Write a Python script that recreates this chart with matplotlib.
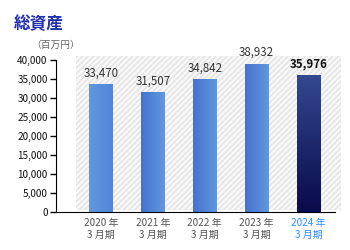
import matplotlib.pyplot as plt
import numpy as np
from matplotlib.patches import Rectangle
from matplotlib.colors import LinearSegmentedColormap

plt.rcParams['font.family'] = ['Noto Sans CJK JP', 'DejaVu Sans']
plt.rcParams['hatch.linewidth'] = 1.2

# data
years = ['2020 年\n3 月期', '2021 年\n3 月期', '2022 年\n3 月期', '2023 年\n3 月期', '2024 年\n3 月期']
values = [33470, 31507, 34842, 38932, 35976]
yticks = [0, 5000, 10000, 15000, 20000, 25000, 30000, 35000, 40000]

fig = plt.figure(figsize=(3.5, 2.5), dpi=100)
ax = fig.add_axes([0.16, 0.152, 0.814, 0.624])

x = np.arange(len(values))

# striped background
bg = Rectangle((-0.48, 450), 5.104, 40600, facecolor='#f8f8f8', edgecolor='#e5e5e5',
               hatch='//////', linewidth=0, clip_on=False, zorder=0)
ax.add_patch(bg)

w = 0.46
grad_h = LinearSegmentedColormap.from_list('h', ['#4672cf', '#6197e0'])
grad_v = LinearSegmentedColormap.from_list('v', ['#090a4c', '#33488f'])
for i, v in enumerate(values):
    if i == len(values) - 1:
        img = np.linspace(0, 1, 100).reshape(-1, 1)
        ax.imshow(img, cmap=grad_v, extent=(i - w / 2, i + w / 2, 0, v),
                  origin='lower', aspect='auto', zorder=2)
    else:
        img = np.linspace(0, 1, 100).reshape(1, -1)
        if i == 0:
            img = img[:, ::-1] * 0.5 + 0.5
        ax.imshow(img, cmap=grad_h, extent=(i - w / 2, i + w / 2, 0, v),
                  origin='lower', aspect='auto', vmin=0, vmax=1, zorder=2)
    bold = i == len(values) - 1
    ax.text(i, v + 1300, f'{v:,}', ha='center', va='bottom', fontsize=8.3,
            color='#111111' if bold else '#333333',
            fontweight='bold' if bold else 'normal', zorder=3)

ax.set_xlim(-0.867, 4.624)
ax.set_ylim(0, 41050)

ax.set_yticks(yticks)
ax.set_yticklabels([f'{t:,}' for t in yticks], fontsize=7.2, color='#111111')
ax.tick_params(axis='y', length=4, width=1, pad=2)
ax.set_xticks(x)
ax.set_xticklabels(years, fontsize=7.2, color='#555555', linespacing=1.3)
ax.tick_params(axis='x', length=0, pad=4)
ax.get_xticklabels()[-1].set_color('#2f8fff')

for s in ['top', 'right']:
    ax.spines[s].set_visible(False)
ax.spines['left'].set_bounds(0, 40000)
ax.spines['bottom'].set_bounds(-0.867, 4.51)
ax.set_facecolor('none')

fig.text(0.04, 0.885, '総資産', fontsize=12, fontweight='bold', color='#1f2fb0')
fig.text(0.09, 0.81, '（百万円）', fontsize=7, color='#666666')

fig.savefig('out.png', dpi=100)
